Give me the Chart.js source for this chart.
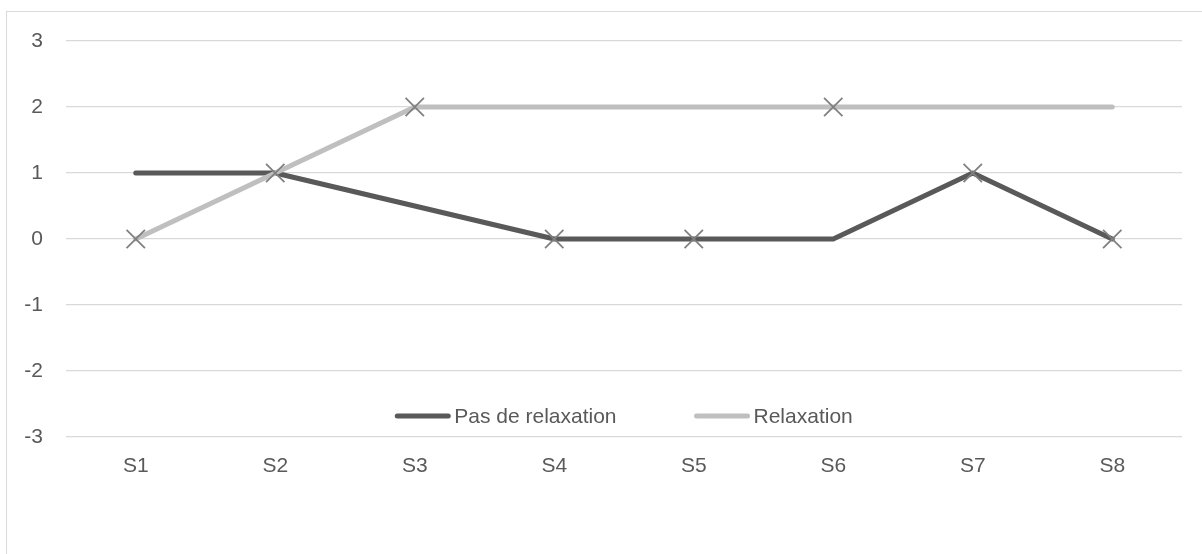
<!DOCTYPE html>
<html lang="fr">
<head>
<meta charset="UTF-8">
<title>Relaxation</title>
<script src="https://cdn.jsdelivr.net/npm/chart.js"></script>
<style>
  html, body { margin: 0; padding: 0; background: #fff; }
  #wrap { position: relative; width: 1202px; height: 554px; overflow: hidden; }
  #frame { position: absolute; left: 6px; top: 11px; right: -10px; bottom: -10px;
           border-left: 1.5px solid #d9d9d9; border-top: 1.5px solid #d9d9d9; }
  #c { position: absolute; left: 0; top: 0; }
</style>
</head>
<body>
<div id="wrap">
  <div id="frame"></div>
  <canvas id="c" width="1202" height="554"></canvas>
</div>
<script>
// data
const categories = ['S1', 'S2', 'S3', 'S4', 'S5', 'S6', 'S7', 'S8'];
const pasDeRelaxation = [1, 1, null, 0, 0, 0, 1, 0];
const relaxation = [0, 1, 2, 2, 2, 2, 2, 2];
const markerValues = [0, 1, 2, 0, 0, 2, 1, 0];
const yTicks = [-3, -2, -1, 0, 1, 2, 3];

const FONT = '"Liberation Sans", Arial, sans-serif';
const TEXT = '#595959';
const DARK = '#595959';
const LIGHT = '#bfbfbf';

// legend drawn inside the plot area, near the bottom
const innerLegend = {
  id: 'innerLegend',
  afterDraw(chart) {
    const ctx = chart.ctx;
    const area = chart.chartArea;
    const items = chart.data.datasets
      .filter(d => d.legendIndex !== undefined)
      .sort((a, b) => a.legendIndex - b.legendIndex);
    ctx.save();
    ctx.font = '21px ' + FONT;
    const lineLen = 55, gap = 4, spacing = 78;
    let total = 0;
    items.forEach((d, i) => {
      total += lineLen + gap + ctx.measureText(d.label).width;
      if (i < items.length - 1) total += spacing;
    });
    let x = (area.left + area.right) / 2 - total / 2;
    const y = area.bottom - 21;
    items.forEach(d => {
      ctx.strokeStyle = d.borderColor;
      ctx.lineWidth = 5;
      ctx.lineCap = 'round';
      ctx.beginPath();
      ctx.moveTo(x + 2, y);
      ctx.lineTo(x + lineLen - 2, y);
      ctx.stroke();
      x += lineLen + gap;
      ctx.fillStyle = TEXT;
      ctx.textBaseline = 'middle';
      ctx.textAlign = 'left';
      ctx.fillText(d.label, x, y + 1);
      x += ctx.measureText(d.label).width + spacing;
    });
    ctx.restore();
  }
};

new Chart(document.getElementById('c'), {
  type: 'line',
  data: {
    labels: categories,
    datasets: [
      {
        label: 'Marqueurs',
        data: markerValues,
        showLine: false,
        pointStyle: 'crossRot',
        pointRadius: 13,
        pointBorderWidth: 1.8,
        pointBorderColor: '#808080',
        borderColor: '#808080'
      },
      {
        label: 'Relaxation',
        data: relaxation,
        borderColor: LIGHT,
        borderWidth: 5,
        borderCapStyle: 'round',
        borderJoinStyle: 'round',
        pointRadius: 0,
        tension: 0,
        legendIndex: 1
      },
      {
        label: 'Pas de relaxation',
        data: pasDeRelaxation,
        borderColor: DARK,
        borderWidth: 5,
        borderCapStyle: 'round',
        borderJoinStyle: 'round',
        pointRadius: 0,
        spanGaps: true,
        tension: 0,
        legendIndex: 0
      }
    ]
  },
  options: {
    responsive: false,
    animation: false,
    layout: { padding: { left: 0, top: 41, right: 20, bottom: 0 } },
    plugins: {
      legend: { display: false },
      tooltip: { enabled: false }
    },
    scales: {
      x: {
        offset: true,
        grid: { display: false, drawTicks: false },
        border: { display: false },
        ticks: { color: TEXT, font: { family: FONT, size: 21 }, padding: 17, maxRotation: 0 },
        afterFit(scale) { scale.height = 117; }
      },
      y: {
        min: -3,
        max: 3,
        afterBuildTicks(scale) { scale.ticks = yTicks.map(v => ({ value: v })); },
        grid: { color: '#d9d9d9', lineWidth: 1.3, drawTicks: false },
        border: { display: false },
        ticks: { color: TEXT, font: { family: FONT, size: 21 }, padding: 23 },
        afterFit(scale) { scale.width = 66; }
      }
    }
  },
  plugins: [innerLegend]
});
</script>
</body>
</html>
